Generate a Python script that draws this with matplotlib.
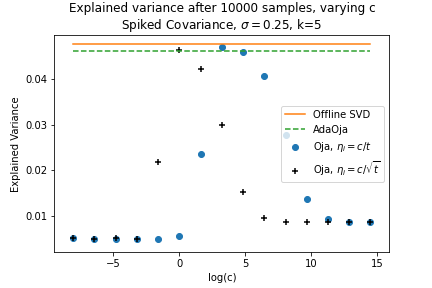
import numpy as np
import matplotlib
matplotlib.use("Agg")
import matplotlib.pyplot as plt

k_exp = np.arange(-5, 10)
log_c = k_exp * np.log(5)

offline_svd = 0.0478
adaoja = 0.0462

oja_ct = [0.0050, 0.0048, 0.0048, 0.0048, 0.0048, 0.0055, 0.0236, 0.0472,
          0.0461, 0.0408, 0.0277, 0.0137, 0.0093, 0.0086, 0.0086]
oja_csqrt = [0.0050, 0.0048, 0.0050, 0.0048, 0.0218, 0.0465, 0.0422, 0.0299,
             0.0153, 0.0094, 0.0087, 0.0087, 0.0087, 0.0086, 0.0086]

fig, ax = plt.subplots(figsize=(6, 4), dpi=72)
fig.subplots_adjust(left=0.126, right=0.901, bottom=0.125, top=0.877)
ax.plot(log_c, [offline_svd] * len(log_c), color='C1', label='Offline SVD')
ax.plot(log_c, [adaoja] * len(log_c), color='C2', linestyle='--', label='AdaOja')
ax.scatter(log_c, oja_ct, color='C0', label=r'Oja, $\eta_i=c/t$')
ax.scatter(log_c, oja_csqrt, color='k', marker='+', linewidths=1.5,
           label=r'Oja, $\eta_i=c/\sqrt{t}$')
ax.set_xlim(-9.47, 15.91)
ax.set_ylim(0.0020, 0.0497)
ax.set_title('Explained variance after 10000 samples, varying c\n'
             r'Spiked Covariance, $\sigma=0.25$, k=5')
ax.set_xlabel('log(c)')
ax.set_ylabel('Explained Variance')
ax.legend(loc='center right')
fig.savefig('out.png')
